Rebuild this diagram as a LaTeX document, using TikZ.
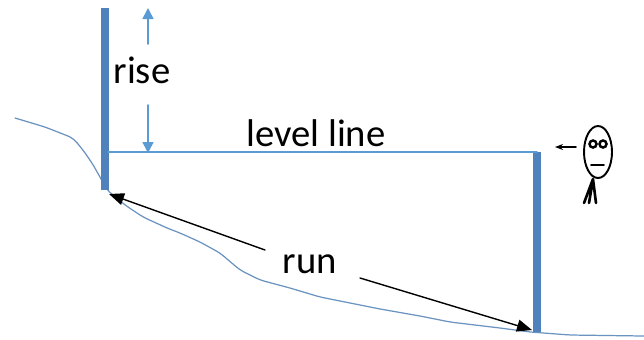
\documentclass[tikz,border=0pt]{standalone}
\usepackage{fontspec}
\setmainfont{Carlito}
\usetikzlibrary{arrows.meta,shapes.geometric}
\definecolor{poleblue}{HTML}{4F81BD}
\definecolor{lineblue}{HTML}{5B9BD5}
\definecolor{groundblue}{HTML}{6A93C0}

\begin{document}
\begin{tikzpicture}[x=0.02cm,y=-0.02cm,font=\fontsize{22}{26}\selectfont,line cap=round,
  pole/.style={poleblue,line width=5pt,line cap=butt},
  label/.style={inner sep=1pt},
  gauge/.style={->,lineblue,line width=0.9pt,>={Triangle[length=2.2mm,width=2.2mm]}},
  runarrow/.style={->,black,line width=0.8pt,>={Triangle[length=3mm,width=2.4mm]}}]
\useasboundingbox (0,0) rectangle (644,339);
% ground profile
\draw[groundblue,line width=0.7pt,rounded corners=3pt] (15,118) -- (45,127) -- (73,138) -- (83,150) -- (92,163)
  -- (100,177) -- (107,190) -- (125,205) -- (143,217) -- (167,228) -- (180,233) -- (200,242)
  -- (220,253) -- (240,270) -- (260,280) -- (290,288) -- (320,297) -- (350,303) -- (380,309)
  -- (420,316) -- (450,322) -- (500,328) -- (530,332) -- (570,335) -- (644,336);
% poles
\coordinate (topA) at (105,8);
\coordinate (footA) at (105,190);
\coordinate (topB) at (537,152);
\coordinate (footB) at (537,332);
\draw[pole] (topA) -- (footA);
\draw[pole] (topB) -- (footB);
% level line
\coordinate (levelA) at (108,152);
\draw[lineblue,line width=0.9pt] (levelA) -- (topB);
\node[label] (level) at (316,133) {level line};
% rise
\node[label] (rise) at (142,70) {rise};
\coordinate (riseup) at (148,8);
\coordinate (risedown) at (148,153);
\draw[gauge] (148,44) -- (riseup);
\draw[gauge] (148,105) -- (risedown);
% run
\node[label] (run) at (310,264) {run};
\draw[runarrow] (265,250) -- (109,194);
\draw[runarrow] (360,278) -- (532,330);
% observer
\node[draw,ellipse,line width=1.1pt,minimum width=0.56cm,minimum height=1.04cm,inner sep=0pt] (head) at (598,152) {};
\draw[line width=1.4pt] (593,144) circle (2pt) (603,144) circle (2pt);
\draw[line width=0.9pt] (591,165) -- (604,165);
\coordinate (neck) at (593,179);
\draw[line width=1.5pt] (neck) -- (584,203) (neck) -- (589,203) (neck) -- (596,203);
\draw[->,line width=0.9pt,>={Stealth[length=1.6mm]}] (576,147) -- (555,147);
\end{tikzpicture}
\end{document}
